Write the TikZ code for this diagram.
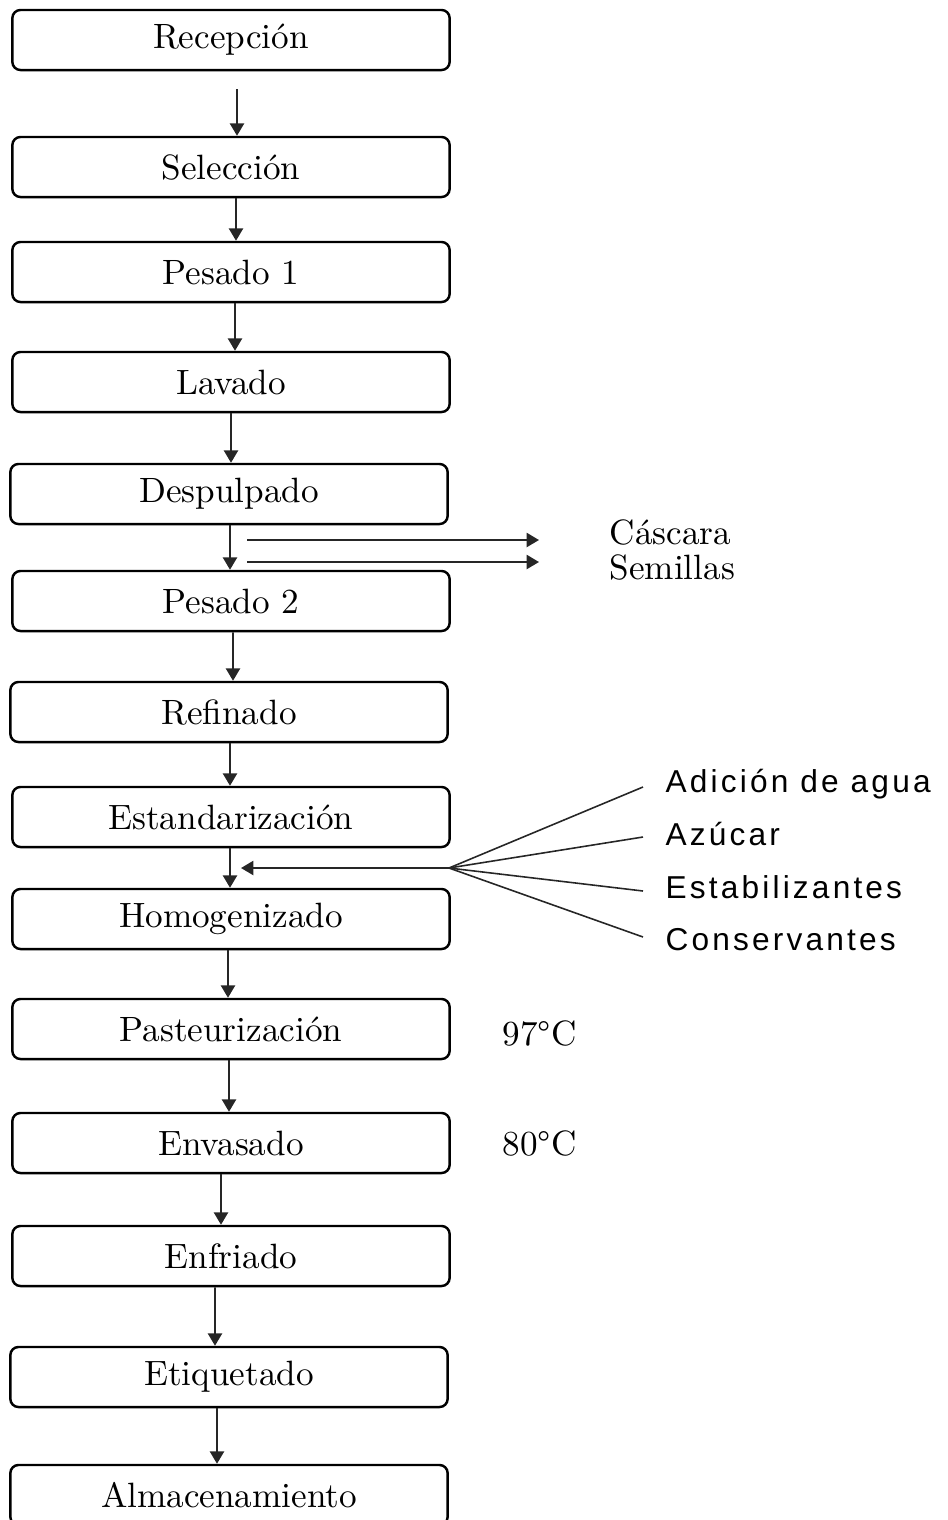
\documentclass[tikz,border=0pt]{standalone}
\usepackage{fontspec}
\newfontfamily\addfont[LetterSpace=10]{Liberation Sans}
\usepackage{tikz}
\usetikzlibrary{arrows.meta}

\begin{document}
\begin{tikzpicture}[
    x=0.01cm, y=-0.01cm,
    stage/.style={
        draw,
        line width=.7pt,
        rounded corners=2.3pt,
        minimum width=4.37cm,
        minimum height=.6cm,
        inner sep=0pt,
        font=\fontsize{10}{12}\selectfont
    },
    flow/.style={-{Triangle[width=4pt,length=3.5pt]}, line width=.55pt, black!85},
    feed/.style={-, line width=.45pt, black!85},
    note/.style={anchor=base west, inner sep=0pt, font=\fontsize{10}{12}\selectfont},
    additive/.style={anchor=base west, inner sep=0pt, font=\addfont\fontsize{9}{11}\selectfont}
]

    \useasboundingbox (0,0) rectangle (947,1520);

    % Stages
    \node[stage] (rec)  at (231,40)   {Recepción};
    \node[stage] (sel)  at (231,167)  {Selección};
    \node[stage] (pes1) at (231,272)  {Pesado 1};
    \node[stage] (lav)  at (231,382)  {Lavado};
    \node[stage] (desp) at (229,494)  {Despulpado};
    \node[stage] (pes2) at (231,601)  {Pesado 2};
    \node[stage] (ref)  at (229,712)  {Refinado};
    \node[stage] (est)  at (231,817)  {Estandarización};
    \node[stage] (hom)  at (231,919)  {Homogenizado};
    \node[stage] (past) at (231,1029) {Pasteurización};
    \node[stage] (env)  at (231,1143) {Envasado};
    \node[stage] (enf)  at (231,1256) {Enfriado};
    \node[stage] (eti)  at (229,1377) {Etiquetado};
    \node[stage] (alm)  at (229,1495) {Almacenamiento};

    % Flow
    \draw[flow, shorten <=.18cm] ([xshift=.06cm]rec.south) -- ([xshift=.06cm]sel.north);
    \draw[flow] ([xshift=.05cm]sel.south) -- ([xshift=.05cm]pes1.north);
    \draw[flow] ([xshift=.04cm]pes1.south) -- ([xshift=.04cm]lav.north);
    \draw[flow] (lav.south) -- (desp.north -| lav.south);
    \draw[flow] ([xshift=.01cm]desp.south) -- ([xshift=-.01cm]pes2.north);
    \draw[flow] ([xshift=.02cm]pes2.south) -- ([xshift=.04cm]ref.north);
    \draw[flow] ([xshift=.01cm]ref.south) -- ([xshift=-.01cm]est.north);
    \draw[flow] ([xshift=-.01cm]est.south) -- ([xshift=-.01cm]hom.north);
    \draw[flow] ([xshift=-.03cm]hom.south) -- ([xshift=-.03cm]past.north);
    \draw[flow] ([xshift=-.02cm]past.south) -- ([xshift=-.02cm]env.north);
    \draw[flow] ([xshift=-.1cm]env.south) -- ([xshift=-.1cm]enf.north);
    \draw[flow] ([xshift=-.16cm]enf.south) -- ([xshift=-.14cm]eti.north);
    \draw[flow] ([xshift=-.12cm]eti.south) -- ([xshift=-.12cm]alm.north);

    % Residues
    \coordinate (casin)  at (247,540);
    \coordinate (casout) at (539,540);
    \coordinate (semin)  at (247,562);
    \coordinate (semout) at (539,562);
    \draw[flow] (casin) -- (casout);
    \draw[flow] (semin) -- (semout);

    \node[note] (cascara)  at (609,544) {Cáscara};
    \node[note] (semillas) at (609,579) {Semillas};

    % Additives
    \coordinate (hub)   at (449,868);
    \coordinate (mixin) at (241,868);
    \coordinate (agua)  at (643,787);
    \coordinate (azuc)  at (643,837);
    \coordinate (estab) at (643,891);
    \coordinate (cons)  at (643,937);

    \draw[flow] (hub) -- (mixin);
    \draw[feed] (hub) -- (agua);
    \draw[feed] (hub) -- (azuc);
    \draw[feed] (hub) -- (estab);
    \draw[feed] (hub) -- (cons);

    \node[additive] (aguatxt)  at (665,792) {Adición de agua};
    \node[additive] (azuctxt)  at (665,845) {Azúcar};
    \node[additive] (estabtxt) at (665,898) {Estabilizantes};
    \node[additive] (constxt)  at (665,950) {Conservantes};

    % Temperatures
    \node[note] (tpast) at (502,1045) {97°C};
    \node[note] (tenv)  at (502,1155) {80°C};

\end{tikzpicture}
\end{document}
